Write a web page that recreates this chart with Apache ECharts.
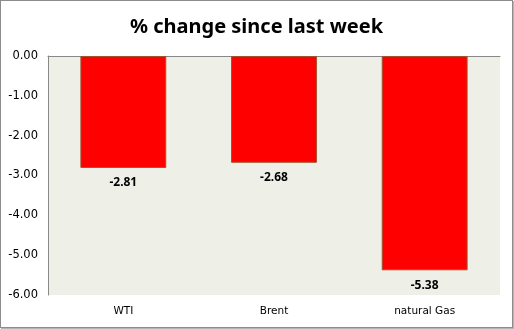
<!DOCTYPE html>
<html>
<head>
<meta charset="utf-8">
<script src="https://cdn.jsdelivr.net/npm/echarts@6/dist/echarts.min.js"></script>
<style>
html,body{margin:0;padding:0;background:#fff;}
#c{position:absolute;left:0;top:0;width:511px;height:326px;border:1px solid #8c8c8c;box-shadow:1px 1px 0 #b5b5b5;background:#fff;}
</style>
</head>
<body>
<div id="c"></div>
<script>
const title = '% change since last week';
const categories = ['WTI', 'Brent', 'natural Gas'];
const values = [-2.81, -2.68, -5.38];
const yMin = -6, yMax = 0, yStep = 1;

const chart = echarts.init(document.getElementById('c'), null, {renderer: 'canvas'});
chart.setOption({
  animation: false,
  title: {
    text: title, left: 'center', top: 11,
    textStyle: {fontFamily: 'Noto Sans', fontWeight: 'bold', fontSize: 20, color: '#000'}
  },
  grid: {left: 47, right: 12, top: 55, bottom: 32, show: true, backgroundColor: '#eef0e8', borderWidth: 0},
  xAxis: [{
    type: 'category', data: categories, position: 'bottom',
    axisLine: {show: false, onZero: false}, axisTick: {show: false},
    axisLabel: {fontFamily: 'DejaVu Sans', fontSize: 10.5, color: '#000', margin: 11}
  }, {
    type: 'category', data: categories, position: 'top',
    axisLine: {show: true, onZero: false, lineStyle: {color: '#888', width: 1}},
    axisTick: {show: false}, axisLabel: {show: false}
  }],
  yAxis: {
    type: 'value', min: yMin, max: yMax, interval: yStep,
    axisLine: {show: true, lineStyle: {color: '#888', width: 1}},
    axisTick: {show: false}, splitLine: {show: false},
    axisLabel: {fontFamily: 'DejaVu Sans', fontSize: 11.5, color: '#000', margin: 10,
      formatter: v => v.toFixed(2)}
  },
  series: [{
    type: 'bar', data: values, barWidth: '57%',
    itemStyle: {color: '#ff0000', borderColor: '#a0522d', borderWidth: 1},
    label: {show: true, position: 'bottom', distance: 9,
      fontFamily: 'Noto Sans', fontWeight: 'bold', fontSize: 12, color: '#000',
      formatter: p => p.value.toFixed(2)}
  }]
});
</script>
</body>
</html>
